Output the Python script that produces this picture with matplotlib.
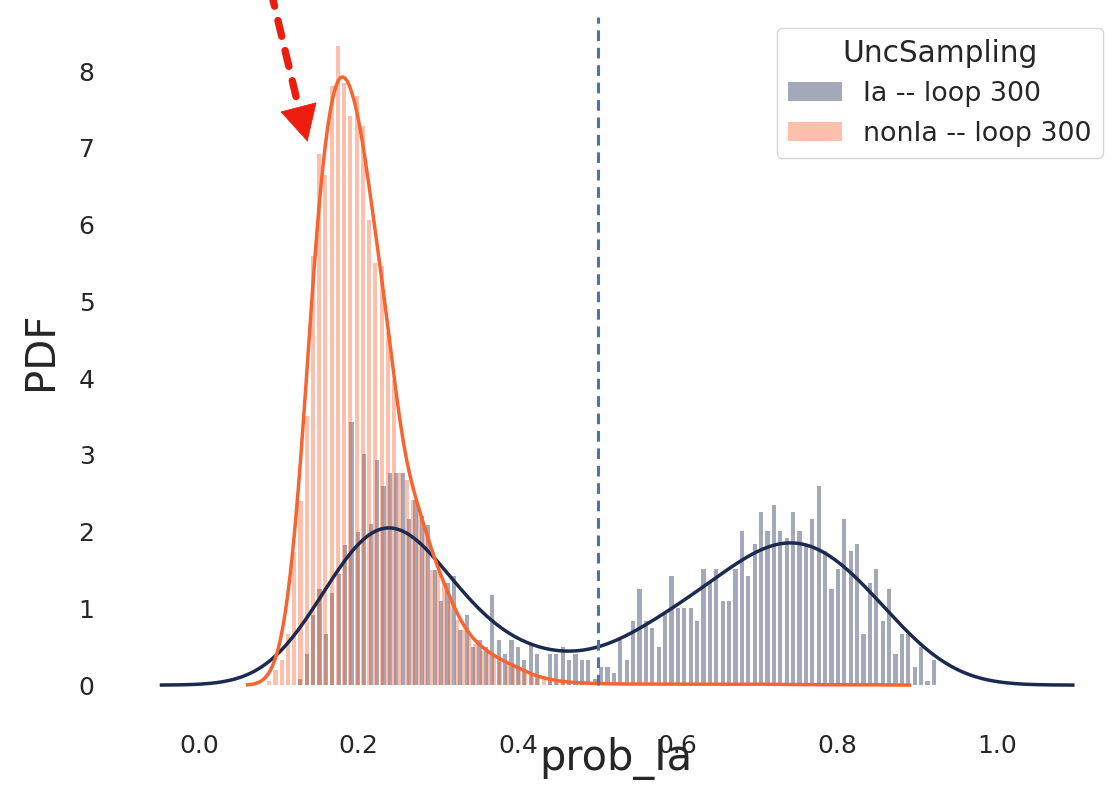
"""Probability distribution of prob_Ia for Ia / nonIa after 300 loops."""

import numpy as np
import matplotlib
matplotlib.use('Agg')
import matplotlib.pyplot as plt

# histogram densities (100 bins each)
ia_range = (0.123, 0.925)
ia_heights = [
    0.08, 0.41, 0.91, 1.25, 0.66, 1.20, 1.45, 1.83, 3.43, 2.00,
    3.01, 2.10, 2.93, 2.59, 2.76, 2.76, 2.76, 2.17, 2.41, 2.20,
    2.08, 1.50, 1.09, 1.33, 1.42, 0.72, 0.91, 0.50, 0.59, 0.49,
    1.17, 0.59, 0.41, 0.59, 0.49, 0.33, 0.52, 0.41, 0.00, 0.41,
    0.41, 0.49, 0.33, 0.41, 0.33, 0.33, 0.08, 0.24, 0.24, 0.16,
    0.59, 0.33, 0.83, 1.25, 0.83, 0.75, 0.50, 0.92, 1.42, 1.00,
    1.00, 1.00, 0.83, 1.51, 1.33, 1.51, 1.09, 1.09, 1.51, 2.01,
    1.42, 1.84, 2.26, 2.01, 2.35, 2.01, 1.92, 2.26, 2.01, 1.84,
    2.17, 2.60, 1.75, 1.25, 1.51, 2.17, 1.75, 1.84, 0.66, 1.33,
    1.51, 0.83, 1.25, 0.41, 0.66, 0.66, 0.24, 0.50, 0.05, 0.33,
]

nonia_range = (0.0841, 0.867)
nonia_heights = [
    0.05, 0.20, 0.33, 0.67, 1.73, 2.40, 3.50, 5.59, 6.92, 6.65,
    7.80, 8.32, 7.85, 7.41, 7.67, 7.28, 6.06, 5.50, 5.46, 4.60,
    3.97, 2.76, 2.67, 2.41, 2.30, 2.05, 1.50, 1.48, 1.33, 1.09,
    0.85, 0.72, 0.63, 0.54, 0.45, 0.43, 0.38, 0.30, 0.28, 0.26,
    0.22, 0.18, 0.12, 0.09, 0.10, 0.07, 0.05, 0.04, 0.03, 0.04,
    0.02, 0.03, 0.02, 0.01, 0.02, 0.02, 0.01, 0.01, 0.02, 0.01,
    0.01, 0.02, 0.01, 0.01, 0.01, 0.02, 0.01, 0.01, 0.01, 0.01,
    0.02, 0.01, 0.01, 0.01, 0.01, 0.01, 0.01, 0.02, 0.01, 0.01,
    0.01, 0.01, 0.01, 0.00, 0.01, 0.01, 0.00, 0.01, 0.00, 0.01,
    0.01, 0.00, 0.00, 0.01, 0.00, 0.00, 0.01, 0.00, 0.00, 0.01,
]

labels = ['Ia -- loop 300', 'nonIa -- loop 300']
legend_title = 'UncSampling'
threshold = 0.5
x_ticks = [0.0, 0.2, 0.4, 0.6, 0.8, 1.0]
y_ticks = [0, 1, 2, 3, 4, 5, 6, 7, 8]

NAVY = '#1b2a4e'
ORANGE = '#f96330'
TEXT = '#262626'


def kde_from_hist(centers, heights, bw, cut=3, n=300):
    # gaussian smoothing of the binned density
    w = np.asarray(heights, dtype=float)
    grid = np.linspace(centers[0] - cut * bw, centers[-1] + cut * bw, n)
    k = np.exp(-0.5 * ((grid[:, None] - centers[None, :]) / bw) ** 2)
    dens = (k * w).sum(axis=1) / (w.sum() * bw * np.sqrt(2 * np.pi))
    return grid, dens


plt.rcParams['font.family'] = 'DejaVu Sans'
plt.rcParams['text.color'] = TEXT
plt.rcParams['axes.labelcolor'] = TEXT
plt.rcParams['xtick.color'] = TEXT
plt.rcParams['ytick.color'] = TEXT

fig = plt.figure(figsize=(11.12, 7.87), dpi=100)
ax = fig.add_axes([0.1025, 0.0889, 0.8957, 0.8926])

series = [
    (ia_range, ia_heights, NAVY, 0.058, 3),
    (nonia_range, nonia_heights, ORANGE, 0.0135, 2),
]
for ((lo, hi), heights, color, bw, cut), label in zip(series, labels):
    edges = np.linspace(lo, hi, len(heights) + 1)
    centers = 0.5 * (edges[:-1] + edges[1:])
    width = edges[1] - edges[0]
    ax.bar(centers, heights, width=width * 0.66, color=color, alpha=0.4,
           linewidth=0, label=label)
    gx, gy = kde_from_hist(centers, heights, bw, cut=cut)
    ax.plot(gx, gy, color=color, lw=2.5)

ax.vlines(threshold, 0, 8.7, colors='#4c72b0', linestyles=(0, (3.5, 2.2)), lw=2.2)

# red pointer to the nonIa peak: dashed shaft + solid head
arrow_tip = (0.136, 7.08)
arrow_tail = (0.090, 9.05)
head_base = (0.1255, 7.50)
ax.annotate('', xy=head_base, xytext=arrow_tail,
            arrowprops=dict(arrowstyle='-', lw=5.3, ls=(0, (2.2, 2.0)),
                            color='#ec1c0e', shrinkA=0, shrinkB=0),
            annotation_clip=False)
ax.annotate('', xy=arrow_tip, xytext=head_base,
            arrowprops=dict(arrowstyle='-|>,head_length=1.25,head_width=0.65',
                            mutation_scale=20, lw=0.5, color='#ec1c0e',
                            shrinkA=0, shrinkB=0),
            annotation_clip=False)

ax.set_xlim(-0.1065, 1.1416)
ax.set_ylim(-0.416, 8.736)
ax.set_xticks(x_ticks)
ax.set_yticks(y_ticks)
ax.tick_params(length=0, labelsize=18)
ax.tick_params(axis='x', pad=12)
ax.tick_params(axis='y', pad=14)
for sp in ax.spines.values():
    sp.set_visible(False)

ax.set_xlabel('prob_Ia', fontsize=30)
ax.set_ylabel('PDF', fontsize=29)
ax.xaxis.set_label_coords(0.504, -0.0285)
ax.yaxis.set_label_coords(-0.053, 0.522)

leg = ax.legend(title=legend_title, loc='upper right', fontsize=19.4,
                title_fontsize=21.3, bbox_to_anchor=(1.006, 1.0))

fig.savefig('out.png', dpi=100)
